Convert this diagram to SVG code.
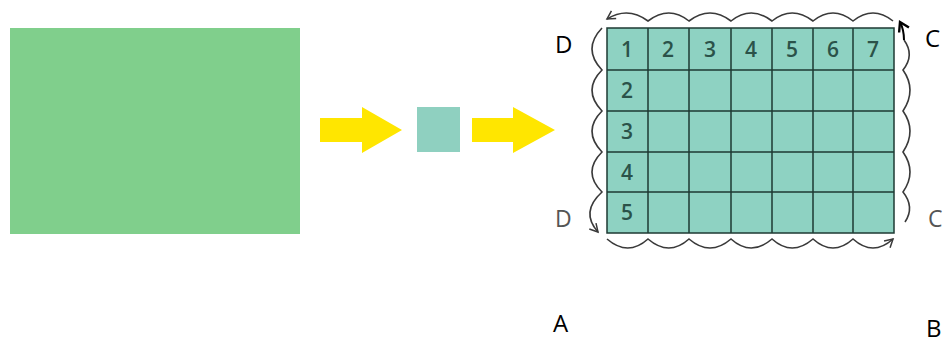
<svg xmlns="http://www.w3.org/2000/svg" width="943" height="343" viewBox="0 0 943 343">
<defs>
<style>
.lbl{font-family:"Open Sans","Liberation Sans",sans-serif;font-size:24px;fill:#000}
.lblg{font-family:"Open Sans","Liberation Sans",sans-serif;font-size:23px;fill:#555}
.num{font-family:"Open Sans","Liberation Sans",sans-serif;font-size:21px;font-weight:600;fill:#2b5249;text-anchor:middle}
.wave{fill:none;stroke:#3a3a3a;stroke-width:1.6}
.yarrow{fill:#FFE600}
.grid{stroke:#1e3a33;stroke-width:1.5;fill:none}
</style>
<marker id="ah" markerUnits="userSpaceOnUse" markerWidth="12" markerHeight="12" refX="9" refY="5" orient="auto" viewBox="0 0 12 10">
<path d="M1,0.5 L9,5 L1,9.5" fill="none" stroke="#3a3a3a" stroke-width="1.5"/>
</marker>
<marker id="ahk" markerUnits="userSpaceOnUse" markerWidth="14" markerHeight="14" refX="10" refY="6" orient="auto" viewBox="0 0 14 12">
<path d="M1,0.5 L10,6 L1,11.5" fill="none" stroke="#000" stroke-width="2.4"/>
</marker>
</defs>
<rect width="943" height="343" fill="#fff"/>

<g id="big-rect"><rect x="10" y="28" width="290" height="206" fill="#80CF8C"/></g>
<g id="small-square"><rect x="417" y="107" width="43" height="45" fill="#8FD0C0"/></g>

<g id="grid">
<rect x="607" y="28" width="287" height="205" fill="#8ED2C2"/>
<g class="grid">
<rect x="607" y="28" width="287" height="205"/>
<path d="M648,28V233 M689,28V233 M731,28V233 M772,28V233 M813,28V233 M853,28V233"/>
<path d="M607,70H894 M607,111H894 M607,152H894 M607,192H894"/>
</g>
<text class="num" x="627" y="57">1</text>
<text class="num" x="668" y="57">2</text>
<text class="num" x="710" y="57">3</text>
<text class="num" x="751" y="57">4</text>
<text class="num" x="792" y="57">5</text>
<text class="num" x="833" y="57">6</text>
<text class="num" x="873" y="57">7</text>
<text class="num" x="627" y="98">2</text>
<text class="num" x="627" y="139">3</text>
<text class="num" x="627" y="180">4</text>
<text class="num" x="627" y="220">5</text>
</g>

<g id="connectors">
<polygon class="yarrow" points="320,118 362,118 362,107 402,130 362,153 362,142 320,142"/>
<polygon class="yarrow" points="472,118 513,118 513,107 555,130 513,153 513,142 472,142"/>
<path class="wave" marker-end="url(#ah)" d="M893,21 Q873,5 853,21 Q833,5 813,21 Q792,5 772,21 Q751,5 731,21 Q710,5 689,21 Q669,5 648,21 Q628,6 607,19"/>
<path class="wave" marker-end="url(#ah)" d="M602,28 Q582,49 602,70 Q582,90 602,111 Q582,131 602,152 Q582,172 602,192 Q580,212 598,232"/>
<path class="wave" marker-end="url(#ah)" d="M607,239 Q628,257 648,239 Q669,257 689,239 Q710,257 731,239 Q751,257 772,239 Q792,257 813,239 Q833,257 853,239 Q873,257 893,239"/>
<path class="wave" d="M904,40 Q915,55 903,70 Q917,90 903,111 Q917,131 903,152 Q917,172 903,192 Q915,207 905,222"/>
<path fill="none" stroke="#000" stroke-width="2" marker-end="url(#ahk)" d="M904,40 Q904,30 900,22"/>
</g>

<g id="labels">
<text class="lbl" x="555" y="53">D</text>
<text class="lbl" x="925" y="47">C</text>
<text class="lblg" x="555" y="227">D</text>
<text class="lblg" x="928" y="227">C</text>
<text class="lbl" x="553" y="332">A</text>
<text class="lbl" x="926" y="337">B</text>
</g>
</svg>
